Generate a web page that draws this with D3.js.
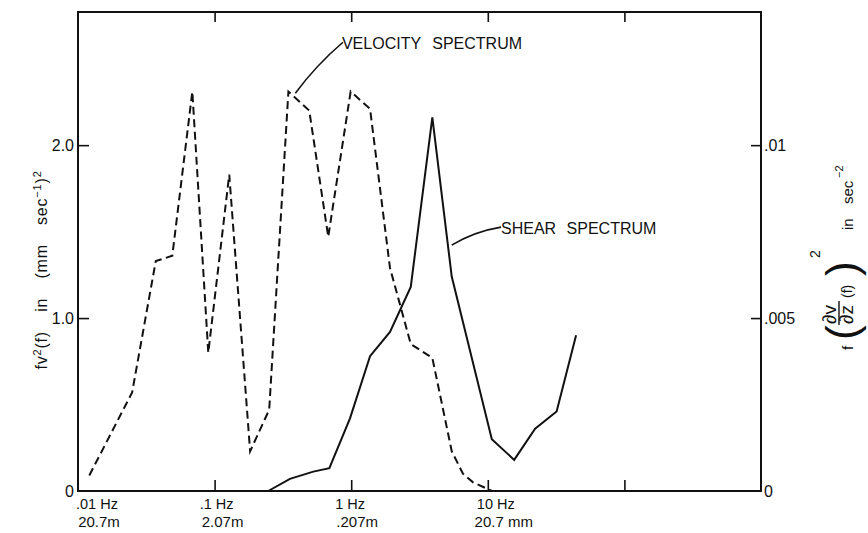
<!DOCTYPE html>
<html><head><meta charset="utf-8">
<script src="https://cdn.jsdelivr.net/npm/d3@7"></script>
<style>
body{margin:0;background:#fff}
text{font-family:"Liberation Sans",Arial,Helvetica,sans-serif;fill:#111}
</style>
</head><body>
<svg id="chart" width="868" height="533"></svg>
<script>
// ---- data ----
const velocityFreq   = [0.0121,0.0249,0.0371,0.049,0.0687,0.0899,0.128,0.182,0.251,0.347,0.493,0.679,0.991,1.374,1.923,2.729,3.926,5.445,6.577,7.798,10.74];
const velocityValues = [0.09,0.57,1.33,1.36,2.31,0.80,1.83,0.23,0.47,2.31,2.20,1.47,2.31,2.21,1.29,0.85,0.77,0.23,0.10,0.05,0.0];
const shearFreq   = [0.247,0.356,0.528,0.692,0.98,1.374,1.923,2.729,3.926,5.445,10.7,15.6,22.2,31.9,44.3];
const shearValues = [0.0,0.00035,0.00056,0.00066,0.0021,0.0039,0.0046,0.0059,0.0108,0.0062,0.0015,0.0009,0.0018,0.0023,0.0045];
const freqTicks = [0.01,0.1,1,10,100];
const freqLabels = [".01 Hz",".1 Hz","1 Hz","10 Hz"];
const wavelengthLabels = ["20.7m","2.07m",".207m","20.7 mm"];
const leftTicks = [0,1,2];
const leftTickLabels = ["0","1.0","2.0"];
const rightTicks = [0,0.005,0.01];
const rightTickLabels = ["0",".005",".01"];
// annotations in data units: [freq, value]
const velocityNote = {text:"VELOCITY SPECTRUM", from:[0.39,2.30], to:[0.87,2.595]};
const shearNote = {text:"SHEAR SPECTRUM", from:[5.44,0.00711], to:[12.5,0.00763]};

// ---- layout ----
const W=868,H=533;
const L=78,R=761,T=12,B=491;
const svg=d3.select("#chart");
const x=d3.scaleLog().domain([0.01,1000]).range([L,R]);
const yL=d3.scaleLinear().domain([0,2.77]).range([B,T]);
const yR=d3.scaleLinear().domain([0,0.01385]).range([B,T]);

// frame
svg.append("rect").attr("x",L).attr("y",T).attr("width",R-L).attr("height",B-T)
  .attr("fill","none").attr("stroke","#111").attr("stroke-width",2);

// left axis
const gl=svg.append("g").attr("transform",`translate(${L},0)`)
  .call(d3.axisLeft(yL).tickValues(leftTicks).tickSize(-11).tickPadding(4)
    .tickFormat((d,i)=>leftTickLabels[i]));
gl.select(".domain").remove();
gl.selectAll(".tick line").attr("stroke","#111").attr("stroke-width",1.6).filter(d=>d===0).remove();
gl.selectAll(".tick text").attr("font-size",16).attr("font-family","Liberation Sans, Arial, sans-serif").attr("fill","#111");

// right axis
const gr=svg.append("g").attr("transform",`translate(${R},0)`)
  .call(d3.axisRight(yR).tickValues(rightTicks).tickSize(-10).tickPadding(3)
    .tickFormat((d,i)=>rightTickLabels[i]));
gr.select(".domain").remove();
gr.selectAll(".tick line").attr("stroke","#111").attr("stroke-width",1.6).filter(d=>d===0).remove();
gr.selectAll(".tick text").attr("font-size",16).attr("font-family","Liberation Sans, Arial, sans-serif").attr("fill","#111");

// bottom ticks (pointing up) and top ticks (pointing down)
const gb=svg.append("g").attr("transform",`translate(0,${B})`)
  .call(d3.axisBottom(x).tickValues(freqTicks.slice(1)).tickSize(-11).tickFormat(""));
gb.select(".domain").remove();
gb.selectAll(".tick line").attr("stroke","#111").attr("stroke-width",1.6);
const gt=svg.append("g").attr("transform",`translate(0,${T})`)
  .call(d3.axisTop(x).tickValues(freqTicks.slice(1)).tickSize(-10).tickFormat(""));
gt.select(".domain").remove();
gt.selectAll(".tick line").attr("stroke","#111").attr("stroke-width",1.6);

// bottom two-line labels
const lab1dx=[19,2,-1,8], lab2dx=[21,8,6,16];
svg.append("g").selectAll("text").data(freqLabels).join("text")
  .attr("x",(d,i)=>x(freqTicks[i])+lab1dx[i]).attr("y",B+18)
  .attr("text-anchor","middle").attr("font-size",14.5).text(d=>d);
svg.append("g").selectAll("text").data(wavelengthLabels).join("text")
  .attr("x",(d,i)=>x(freqTicks[i])+lab2dx[i]).attr("y",B+36)
  .attr("text-anchor","middle").attr("font-size",15).text(d=>d);

// lines
const vLine=d3.line().x((d,i)=>x(velocityFreq[i])).y(d=>yL(d));
svg.append("path").attr("d",vLine(velocityValues)).attr("fill","none")
  .attr("stroke","#111").attr("stroke-width",2).attr("stroke-dasharray","8,4.5");
const sLine=d3.line().x((d,i)=>x(shearFreq[i])).y(d=>yR(d));
svg.append("path").attr("d",sLine(shearValues)).attr("fill","none")
  .attr("stroke","#111").attr("stroke-width",2);

// annotations
function leader(p0,p1,bend){
  const mx=(p0[0]+p1[0])/2, my=(p0[1]+p1[1])/2;
  const dx=p1[0]-p0[0], dy=p1[1]-p0[1];
  const len=Math.hypot(dx,dy);
  const cx=mx - dy/len*bend, cy=my + dx/len*bend;
  return `M${p0[0]},${p0[1]} Q${cx},${cy} ${p1[0]},${p1[1]}`;
}
const v0=[x(velocityNote.from[0]),yL(velocityNote.from[1])], v1=[x(velocityNote.to[0]),yL(velocityNote.to[1])];
svg.append("path").attr("d",leader(v0,v1,-4)).attr("fill","none").attr("stroke","#111").attr("stroke-width",1.6);
svg.append("text").attr("x",v1[0]-1).attr("y",v1[1]+7).attr("font-size",16).attr("word-spacing",7)
  .text(velocityNote.text);
const s0=[x(shearNote.from[0]),yR(shearNote.from[1])], s1=[x(shearNote.to[0]),yR(shearNote.to[1])];
svg.append("path").attr("d",leader(s0,s1,-5)).attr("fill","none").attr("stroke","#111").attr("stroke-width",1.6);
svg.append("text").attr("x",s1[0]).attr("y",s1[1]+7).attr("font-size",16).attr("word-spacing",6)
  .text(shearNote.text);

// left axis title
const lt=svg.append("text").attr("transform","translate(47,270) rotate(-90)")
  .attr("text-anchor","middle").attr("font-size",16).attr("letter-spacing",0.8).attr("word-spacing",14);
lt.append("tspan").text("fv");
lt.append("tspan").attr("dy",-6).attr("font-size",11).text("2");
lt.append("tspan").attr("dy",6).text("(f)  in  (mm  sec");
lt.append("tspan").attr("dy",-6).attr("font-size",11).text("−1");
lt.append("tspan").attr("dy",6).text(")");
lt.append("tspan").attr("dy",-6).attr("font-size",11).text("2");

// right axis title
const rt=svg.append("g").attr("transform","translate(853,350) rotate(-90)");
rt.append("text").attr("x",0).attr("y",0).attr("font-size",15).text("f");
rt.append("text").attr("x",10).attr("y",4).attr("font-size",44).attr("font-weight","300").text("(");
rt.append("text").attr("x",26).attr("y",-17).attr("font-size",19).text("∂v");
rt.append("line").attr("x1",25).attr("x2",49).attr("y1",-14).attr("y2",-14).attr("stroke","#111").attr("stroke-width",1.4);
rt.append("text").attr("x",26).attr("y",0).attr("font-size",19).text("∂z");
rt.append("text").attr("x",52).attr("y",-1).attr("font-size",14).text("(f)");
rt.append("text").attr("x",74).attr("y",4).attr("font-size",44).attr("font-weight","300").text(")");
rt.append("text").attr("x",92).attr("y",-33).attr("font-size",14).text("2");
rt.append("text").attr("x",120).attr("y",0).attr("font-size",15).text("in");
rt.append("text").attr("x",146).attr("y",0).attr("font-size",15).text("sec");
rt.append("text").attr("x",172).attr("y",-10).attr("font-size",11).text("−2");
</script>
</body></html>
